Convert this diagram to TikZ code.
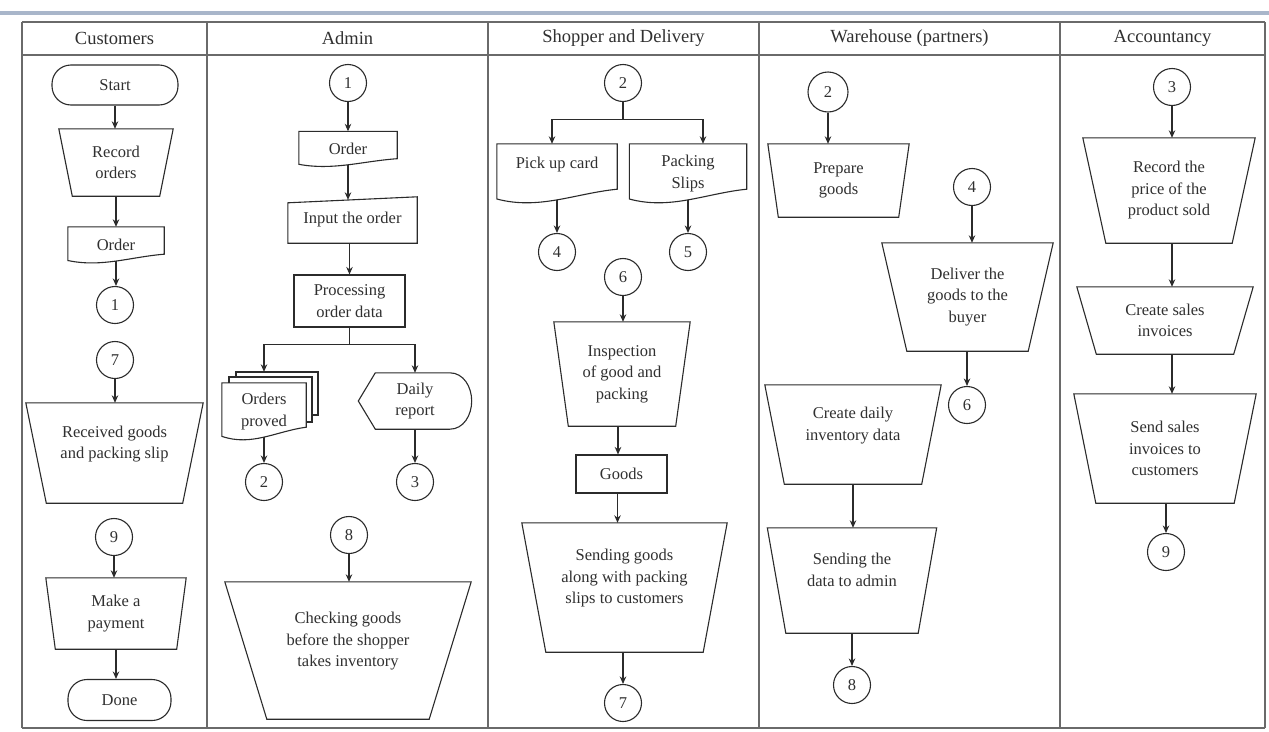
\documentclass[tikz,border=0pt]{standalone}
\usepackage{fontspec}
\setmainfont{Liberation Serif}
\usetikzlibrary{arrows.meta,calc}
\definecolor{linecol}{HTML}{2B2B2B}
\definecolor{lanecol}{HTML}{6A6A6A}
\definecolor{txtcol}{HTML}{303030}
\definecolor{topbar}{HTML}{A9B6CA}
\newcommand\bodyfont{\fontsize{16.5}{21.5}\selectfont}
\newcommand\headfont{\fontsize{18.5}{21}\selectfont}
% trapezoid (manual operation): name, x, y, top width, bottom width, height, text
\newcommand\mtrap[7]{%
  \node[txt,minimum width=#4pt,minimum height=#6pt] (#1) at (#2,#3) {#7};
  \draw[shp] (#1.north west) -- (#1.north east)
    -- ([xshift={-(#4-#5)/2*1pt}]#1.south east)
    -- ([xshift={(#4-#5)/2*1pt}]#1.south west) -- cycle;}
% document: [opts] name, x, y, width, height, wave amplitude, text
\newcommand\mdoc[8][]{%
  \node[txt,minimum width=#5pt,minimum height=#6pt,#1] (#2) at (#3,#4) {#8};
  \draw[shp] (#2.north west) -- (#2.north east) -- ([yshift=#7pt]#2.south east)
    .. controls ($(#2.south east)!0.35!(#2.south west)+(0,-0.7*#7)$)
    and ($(#2.south west)!0.35!(#2.south east)+(0,0.5*#7)$)
    .. ([yshift=0.3*#7pt]#2.south west) -- cycle;}
\begin{document}
\begin{tikzpicture}[x=1pt,y=-1pt,
  shp/.style={draw=linecol,line width=1.1pt},
  txt/.style={inner sep=0pt,align=center,font=\bodyfont,text=txtcol},
  arr/.style={draw=linecol,line width=1.1pt,-{Stealth[length=7.5pt,width=6.5pt]}},
  circ/.style={circle,draw=linecol,line width=1.1pt,minimum size=37pt,inner sep=0pt,font=\bodyfont,text=txtcol},
  term/.style={txt,draw=linecol,line width=1.1pt,rounded corners=19pt},
  rectbox/.style={txt,draw=linecol,line width=1.1pt},
  lane/.style={draw=lanecol,line width=1.8pt},
  head/.style={inner sep=0pt,font=\headfont,text=txtcol}]
\useasboundingbox (0,0) rectangle (1269,731);
\fill[white] (0,0) rectangle (1269,731);
\fill[topbar] (0,11) rectangle (1269,14.5);

% lanes
\draw[lane] (22,22) -- (1265,22);
\draw[lane] (22,55) -- (1265,55);
\draw[lane] (22,728) -- (1265,728);
\foreach \lx in {22,207,488,759,1060,1265} {\draw[lane] (\lx,22) -- (\lx,728);}
\node[head] (h1) at (114.5,38) {Customers};
\node[head] (h2) at (347.5,38) {Admin};
\node[head] (h3) at (623.5,38) {Shopper and Delivery};
\node[head] (h4) at (909.5,38) {Warehouse (partners)};
\node[head] (h5) at (1162.5,38) {Accountancy};

% ---------- Customers ----------
\node[term,minimum width=126pt,minimum height=40pt] (start) at (115,85) {Start};
\mtrap{ro}{116}{162.5}{114}{87}{67}{Record\\orders}
\mdoc{ord1}{116}{245}{96}{36}{9}{Order}
\node[circ] (c1a) at (115,305) {1};
\node[circ] (c7a) at (115,360) {7};
\mtrap{rg}{114.5}{453}{177}{136}{100}{Received goods\\and packing slip\\\mbox{}}
\node[circ] (c9a) at (114,537) {9};
\mtrap{mp}{116}{613.5}{140}{121}{71}{Make a\\payment}
\node[term,minimum width=103pt,minimum height=41pt] (done) at (119.5,700) {Done};

\draw[arr] (start.south) -- (start.south |- ro.north);
\draw[arr] (ro.south) -- (ro.south |- ord1.north);
\draw[arr] ([yshift=2pt]ord1.south) -- (ord1.south |- c1a.north);
\draw[arr] (c7a.south) -- (c7a.south |- rg.north);
\draw[arr] (c9a.south) -- (c9a.south |- mp.north);
\draw[arr] (mp.south) -- (mp.south |- done.north);

% ---------- Admin ----------
\node[circ] (c1b) at (348,83) {1};
\mdoc{ord2}{348}{149}{98}{35}{8}{Order}
\node[txt,minimum width=129pt,minimum height=46pt] (inp) at (352.5,220) {Input the order};
\draw[shp] ([yshift=-6pt]inp.north west) -- (inp.north east) -- (inp.south east) -- (inp.south west) -- cycle;
\coordinate (inpin) at ([yshift=-3pt]inp.north);
\node[rectbox,minimum width=111pt,minimum height=52pt] (proc) at (349.5,301) {Processing\\order data};
\draw[shp,fill=white] (236,372) rectangle (318,415);
\draw[shp,fill=white] (229,377) rectangle (312,422);
\mdoc[fill=white]{op}{264}{411.5}{84}{57}{13}{Orders\\proved}
\node[txt,minimum width=113pt,minimum height=56pt] (dr) at (415,401) {Daily\\report};
\draw[shp] (dr.west) -- ([xshift=17pt]dr.north west) -- ([xshift=-22pt]dr.north east)
  to[out=0,in=90] (dr.east) to[out=-90,in=0] ([xshift=-22pt]dr.south east)
  -- ([xshift=17pt]dr.south west) -- cycle;
\node[circ] (c2a) at (264,482) {2};
\node[circ] (c3a) at (415,482) {3};
\node[circ] (c8a) at (349,535) {8};
\mtrap{cg}{348}{650.5}{246}{162}{137}{Checking goods\\before the shopper\\takes inventory\\\mbox{}}

\draw[arr] (c1b.south) -- (c1b.south |- ord2.north);
\draw[arr] ([yshift=2pt]ord2.south) -- (ord2.south |- inpin);
\draw[arr] (inp.south -| proc.north) -- (proc.north);
\draw[arr] (proc.south) -- ++(0,17) -| ([yshift=11pt]op.north);
\draw[arr] (proc.south) -- ++(0,17) -| (dr.north);
\draw[arr] ([yshift=3pt]op.south) -- (op.south |- c2a.north);
\draw[arr] (dr.south) -- (dr.south |- c3a.north);
\draw[arr] (c8a.south) -- (c8a.south |- cg.north);

% ---------- Shopper and Delivery ----------
\node[circ] (c2b) at (623,83) {2};
\mdoc{pu}{557}{173.5}{120}{59}{14}{Pick up card\\\mbox{}}
\mdoc{ps}{688}{173.5}{117}{59}{14}{Packing\\Slips}
\node[circ] (c4a) at (557,252) {4};
\node[circ] (c5a) at (688,252) {5};
\node[circ] (c6a) at (623,277) {6};
\mtrap{insp}{622}{374}{136}{107}{104}{Inspection\\of good and\\packing}
\node[rectbox,minimum width=91pt,minimum height=38pt] (goods) at (621.5,474) {Goods};
\mtrap{sg}{624.5}{587.5}{205}{157}{129}{Sending goods\\along with packing\\slips to customers\\\mbox{}}
\node[circ] (c7b) at (623,703) {7};

\draw[arr] (c2b.south) -- ++(0,17) -| ([xshift=-5pt]pu.north);
\draw[arr] (c2b.south) -- ++(0,17) -| ([xshift=15pt]ps.north);
\draw[arr] ([yshift=3pt]pu.south) -- (pu.south |- c4a.north);
\draw[arr] ([yshift=3pt]ps.south) -- (ps.south |- c5a.north);
\draw[arr] (c6a.south) -- (c6a.south |- insp.north);
\draw[arr] ([xshift=-4pt]insp.south) -- ([xshift=-4pt]insp.south |- goods.north);
\draw[arr] ([xshift=-4pt]goods.south) -- ([xshift=-4pt]goods.south |- sg.north);
\draw[arr] (sg.south -| c7b.north) -- (c7b.north);

% ---------- Warehouse (partners) ----------
\node[circ,minimum size=40pt] (c2c) at (828,92) {2};
\mtrap{pg}{838.5}{180.5}{141}{120}{73}{Prepare\\goods}
\node[circ] (c4b) at (972,187) {4};
\mtrap{dl}{967.5}{297}{171}{121}{108}{Deliver the\\goods to the\\buyer}
\node[circ] (c6b) at (967,405) {6};
\mtrap{cd}{853}{434.5}{176}{137}{99}{Create daily\\inventory data\\\mbox{}}
\mtrap{sd}{852}{580.5}{169}{132}{105}{Sending the\\data to admin\\\mbox{}}
\node[circ] (c8b) at (852,685) {8};

\draw[arr] (c2c.south) -- (c2c.south |- pg.north);
\draw[arr] (c4b.south) -- (c4b.south |- dl.north);
\draw[arr] (dl.south -| c6b.north) -- (c6b.north);
\draw[arr] (cd.south) -- (cd.south |- sd.north);
\draw[arr] (sd.south) -- (sd.south |- c8b.north);

% ---------- Accountancy ----------
\node[circ] (c3b) at (1172,87) {3};
\mtrap{rp}{1169}{190.5}{172}{126}{105}{Record the\\price of the\\product sold}
\mtrap{cs}{1165}{320.5}{176}{137}{67}{Create sales\\invoices}
\mtrap{ss}{1165}{448.5}{182}{138}{109}{Send sales\\invoices to\\customers}
\node[circ] (c9b) at (1166,552) {9};

\draw[arr] (c3b.south) -- (c3b.south |- rp.north);
\draw[arr] (rp.south -| c3b.south) -- (cs.north -| c3b.south);
\draw[arr] (cs.south -| c3b.south) -- (ss.north -| c3b.south);
\draw[arr] (ss.south -| c9b.north) -- (c9b.north);
\end{tikzpicture}
\end{document}
